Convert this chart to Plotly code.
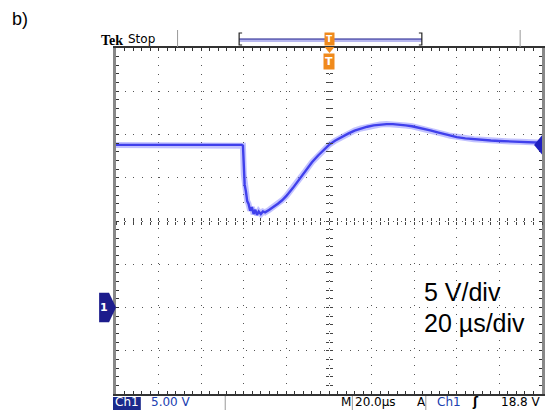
import plotly.graph_objects as go

# ---- data (time in µs, Ch1 in V; 5 V/div, 20 µs/div, ground at -2 div) ----
t_us = [-100, -60, -41, -40.4, -40.0, -39.6, -39.0, -38.4, -37.8, -37.0, -36.2, -35.4, -34.6, -33.8,
        -33.0, -32.0, -31.0, -30.0, -28.0, -26.0, -24.0, -22.0, -20.0, -17.0, -14.0, -11.0, -8.0,
        -5.0, -2.0, 0.0, 3.0, 6.0, 9.0, 12.0, 15.0, 18.0, 21.0, 24.0, 27.0, 30.0, 33.0, 36.0, 39.0,
        42.0, 45.0, 48.0, 51.0, 54.0, 57.0, 60.0, 64.0, 68.0, 72.0, 76.0, 80.0, 85.0, 90.0, 95.0, 100.0]
v_ch1 = [18.8, 18.8, 18.8, 18.7, 15.4, 14.2, 13.4, 12.3, 12.0, 11.2, 11.6, 10.8, 11.3, 10.7,
         11.1, 10.8, 11.1, 11.0, 11.3, 11.6, 12.0, 12.4, 12.9, 13.8, 14.8, 15.8, 16.8,
         17.6, 18.3, 18.8, 19.3, 19.75, 20.1, 20.45, 20.7, 20.9, 21.05, 21.15, 21.2, 21.2, 21.15, 21.05, 20.95,
         20.8, 20.65, 20.45, 20.25, 20.05, 19.85, 19.7, 19.55, 19.45, 19.4, 19.3, 19.25, 19.2, 19.15, 19.1, 19.05]

trigger_level = 18.8
ground_level = 0.0
x_range = [-100, 100]
y_range = [-10, 30]
status_texts = ["Ch1", "5.00 V", "M", "20.0µs", "A", "Ch1", "ʃ", "18.8 V"]

W, H = 552, 410
X0, X1, Y0, Y1 = 116, 545, 48, 394


def px(x):
    return (x - X0) / (X1 - X0)


def py(y):
    return (Y1 - y) / (Y1 - Y0)


ORANGE = "#f08a1c"
NAVY = "#1c1c8c"
BLUE_TXT = "#2040b0"
GRID = "#555555"

fig = go.Figure()

# noisy-trace halo and core
fig.add_trace(go.Scatter(x=t_us, y=v_ch1, mode="lines",
                         line=dict(color="rgba(120,120,255,0.45)", width=6),
                         hoverinfo="skip", showlegend=False))
fig.add_trace(go.Scatter(x=t_us, y=v_ch1, mode="lines",
                         line=dict(color="rgb(64,64,236)", width=2.4),
                         showlegend=False))
# dummy traces to activate center cross-hair tick axes
fig.add_trace(go.Scatter(x=[None], y=[None], xaxis="x2", yaxis="y2", showlegend=False, hoverinfo="skip"))
fig.add_trace(go.Scatter(x=[None], y=[None], xaxis="x3", yaxis="y3", showlegend=False, hoverinfo="skip"))

common = dict(showticklabels=False, zeroline=False, fixedrange=True)

fig.update_layout(
    width=W, height=H,
    margin=dict(l=X0, r=W - X1, t=Y0, b=H - Y1, pad=0),
    paper_bgcolor="white", plot_bgcolor="white",
    showlegend=False,
    xaxis=dict(range=x_range, dtick=20, showgrid=True, gridcolor=GRID, gridwidth=1,
               griddash="1px,7.58px", ticks="inside", ticklen=3, tickcolor="#333",
               minor=dict(dtick=4, ticks="inside", ticklen=3, tickcolor="#333", showgrid=False),
               showline=True, linecolor="#333", linewidth=1.5, mirror="ticks", **common),
    yaxis=dict(range=y_range, dtick=5, showgrid=True, gridcolor=GRID, gridwidth=1,
               griddash="1px,7.65px", ticks="inside", ticklen=3, tickcolor="#333",
               minor=dict(dtick=1, ticks="inside", ticklen=3, tickcolor="#333", showgrid=False),
               showline=True, linecolor="#888", linewidth=3, mirror="ticks", **common),
    xaxis2=dict(range=x_range, overlaying="x", anchor="free", position=0.5, dtick=4,
                ticks="outside", ticklen=3, tickcolor="#444", showgrid=False, showline=False, **common),
    yaxis2=dict(range=y_range, overlaying="y", anchor="free", position=0.5, dtick=1,
                ticks="outside", ticklen=3, tickcolor="#444", showgrid=False, showline=False, **common),
    xaxis3=dict(range=x_range, overlaying="x", anchor="free", position=0.5, dtick=4,
                ticks="inside", ticklen=3, tickcolor="#444", showgrid=False, showline=False, **common),
    yaxis3=dict(range=y_range, overlaying="y", anchor="free", position=0.5, dtick=1,
                ticks="inside", ticklen=3, tickcolor="#444", showgrid=False, showline=False, **common),
)

shapes = []
# top separators
for xs in (178, 523):
    shapes.append(dict(type="line", xref="paper", yref="paper", x0=px(xs), x1=px(xs), y0=py(30), y1=py(47),
                       line=dict(color="#999", width=1)))
# record bracket
shapes.append(dict(type="line", xref="paper", yref="paper", x0=px(240), x1=px(424), y0=py(40.5), y1=py(40.5),
                   line=dict(color="#b8b8f0", width=3)))
shapes.append(dict(type="line", xref="paper", yref="paper", x0=px(240), x1=px(424), y0=py(39), y1=py(39),
                   line=dict(color=NAVY, width=1.2)))
for xa, xb in ((243, 240), (421, 424)):
    shapes.append(dict(type="path", xref="paper", yref="paper",
                       path=f"M {px(xa)},{py(33)} L {px(xb)},{py(33)} L {px(xb)},{py(45)} L {px(xa)},{py(45)}",
                       line=dict(color="#222", width=1.2)))
# small orange trigger pointer below top edge
shapes.append(dict(type="path", xref="paper", yref="paper",
                   path=f"M {px(326)},{py(47)} L {px(336)},{py(47)} L {px(331)},{py(53)} Z",
                   fillcolor=ORANGE, line=dict(color=ORANGE, width=0)))
# Ch1 ground marker on the left
shapes.append(dict(type="path", xref="paper", yref="y",
                   path=f"M {px(99)},{ground_level + 1.7} L {px(109)},{ground_level + 1.7} L {px(116)},{ground_level} "
                        f"L {px(109)},{ground_level - 1.7} L {px(99)},{ground_level - 1.7} Z",
                   fillcolor=NAVY, line=dict(color=NAVY, width=0)))
# trigger-level arrow on the right
shapes.append(dict(type="path", xref="paper", yref="y",
                   path=f"M {px(545)},{trigger_level + 1.1} L {px(537)},{trigger_level} L {px(545)},{trigger_level - 1.1} Z",
                   fillcolor="#2020c0", line=dict(color="#2020c0", width=0)))
# status bar
shapes.append(dict(type="rect", xref="paper", yref="paper", x0=px(113), x1=px(141), y0=py(410), y1=py(397),
                   fillcolor="#1b2a8c", line=dict(width=0)))
for xs in (226, 354, 428):
    shapes.append(dict(type="line", xref="paper", yref="paper", x0=px(xs), x1=px(xs), y0=py(396), y1=py(410),
                       line=dict(color="#999", width=1)))
fig.update_layout(shapes=shapes)

ann = []


def A(text, x, y, size, color="black", family="Liberation Sans", xanchor="left", **kw):
    ann.append(dict(text=text, x=px(x), y=py(y), xref="paper", yref="paper", showarrow=False,
                    xanchor=xanchor, yanchor="middle", font=dict(size=size, color=color, family=family), **kw))


A("b)", 9, 19, 18)
A("<b>Tek</b>", 99, 40, 14, family="Liberation Serif")
A("Stop", 126, 39, 12, family="DejaVu Sans")
A("<b>T</b>", 331, 39, 9, color="white", family="DejaVu Sans", xanchor="center", bgcolor=ORANGE, borderpad=1)
A("<b>T</b>", 331, 61, 11, color="white", family="DejaVu Sans", xanchor="center", bgcolor=ORANGE, borderpad=1)
A("<b>1</b>", 104, 307, 11, color="white", family="DejaVu Sans", xanchor="center")
A("5 V/div", 424, 292, 25)
A("20 µs/div", 424, 323, 25)

SY = 402
A(status_texts[0], 127, SY, 12, color="white", family="DejaVu Sans", xanchor="center", borderpad=0)
A(status_texts[1], 150, SY, 12, color=BLUE_TXT, family="DejaVu Sans", borderpad=0)
A(status_texts[2], 342, SY, 12, family="DejaVu Sans", borderpad=0)
A(status_texts[3], 356, SY, 12, family="DejaVu Sans", borderpad=0)
A(status_texts[4], 418, SY, 12, family="DejaVu Sans", borderpad=0)
A(status_texts[5], 438, SY, 12, color=BLUE_TXT, family="DejaVu Sans", borderpad=0)
A("<b>" + status_texts[6] + "</b>", 473, SY, 12, family="DejaVu Sans", borderpad=0)
A(status_texts[7], 503, SY, 12, family="DejaVu Sans", borderpad=0)

fig.update_layout(annotations=ann)

fig.write_html("out.html")
